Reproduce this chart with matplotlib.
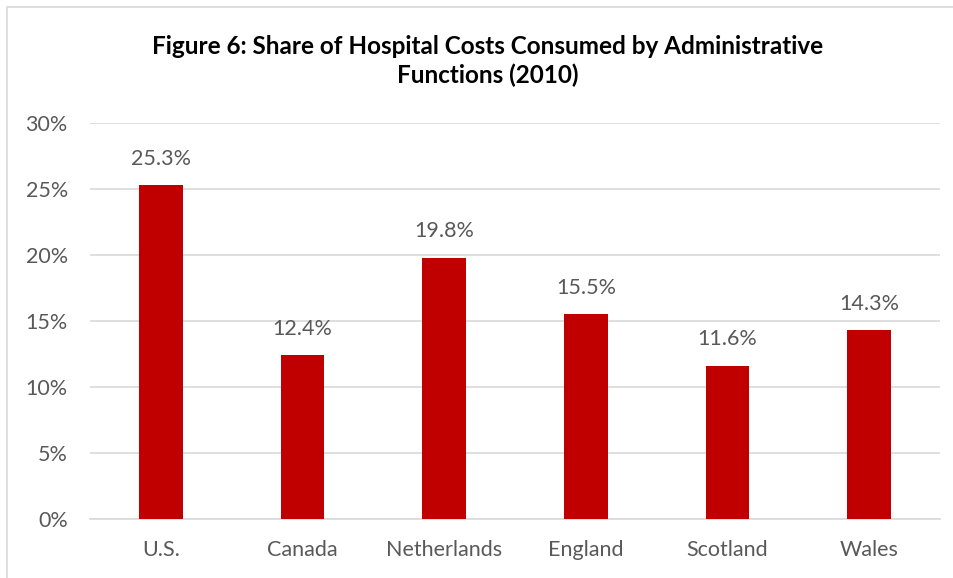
import matplotlib.pyplot as plt
from matplotlib.patches import Rectangle
from matplotlib.ticker import PercentFormatter

countries = ['U.S.', 'Canada', 'Netherlands', 'England', 'Scotland', 'Wales']
admin_share = [25.3, 12.4, 19.8, 15.5, 11.6, 14.3]
y_ticks = [0, 5, 10, 15, 20, 25, 30]

plt.rcParams['font.family'] = ['Lato', 'DejaVu Sans']
grey = '#595959'

fig = plt.figure(figsize=(9.54, 5.78), dpi=100)
ax = fig.add_axes([90 / 954, 1 - 519 / 578, 850 / 954, 396 / 578])

x = range(len(countries))
bars = ax.bar(x, admin_share, width=0.31, color='#C00000', zorder=3)
for b, v in zip(bars, admin_share):
    ax.text(b.get_x() + b.get_width() / 2, v + 2.0, f'{v:.1f}%',
            ha='center', va='center', fontsize=15.5, color=grey)

ax.set_xlim(-0.5, len(countries) - 0.5)
ax.set_ylim(0, 30)
ax.set_yticks(y_ticks)
ax.yaxis.set_major_formatter(PercentFormatter(decimals=0))
ax.set_xticks(list(x))
ax.set_xticklabels(countries)
ax.tick_params(axis='both', length=0, labelsize=15.5, labelcolor=grey)
ax.tick_params(axis='x', pad=15)
ax.tick_params(axis='y', pad=16)
ax.grid(axis='y', color='#D9D9D9', linewidth=1.2, zorder=0)
for s in ['top', 'right', 'left']:
    ax.spines[s].set_visible(False)
ax.spines['bottom'].set_color('#D9D9D9')
ax.spines['bottom'].set_linewidth(1.2)

fig.text(488 / 954, 1 - 61 / 578,
         'Figure 6: Share of Hospital Costs Consumed by Administrative\nFunctions (2010)',
         ha='center', va='center', fontsize=17.5, fontweight='bold',
         color='black', linespacing=1.32)

# chart frame (only left and top edges visible in the picture)
fig.patches.append(Rectangle((7 / 954, -0.1), 1.2, 1 - 7 / 578 + 0.1,
                             transform=fig.transFigure, fill=False,
                             edgecolor='#D9D9D9', linewidth=1.2))

fig.savefig('out.png', dpi=100)
